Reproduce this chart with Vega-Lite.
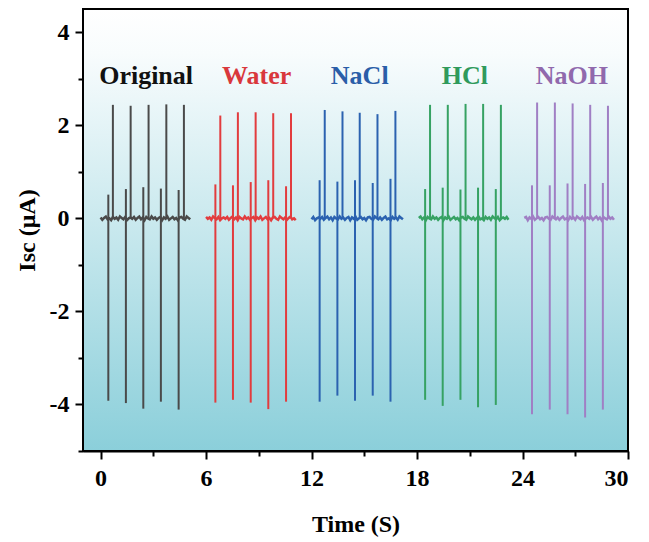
{
"$schema": "https://vega.github.io/schema/vega-lite/v6.json",
"width": 545,
"height": 442,
"autosize": "none",
"padding": {"left": 83, "top": 9, "right": 21, "bottom": 91},
"config": {
  "view": {"stroke": null},
  "axis": {"domainColor": "#000000", "domainWidth": 2, "tickColor": "#000000", "tickWidth": 2, "labelFont": "Liberation Serif", "labelFontSize": 24, "labelFontWeight": "bold", "labelColor": "#000000", "titleFont": "Liberation Serif", "titleFontSize": 24, "titleFontWeight": "bold", "titleColor": "#000000", "grid": false, "zindex": 1}
},
"datasets": {
  "trace": [
{"s":"Original","t":0,"v":0.02},{"s":"Original","t":0.1,"v":-0.03},{"s":"Original","t":0.2,"v":0.01},{"s":"Original","t":0.3,"v":0.04},{"s":"Original","t":0.4,"v":-0.02},{"s":"Original","t":0.5,"v":0},{"s":"Original","t":0.6,"v":-0.04},{"s":"Original","t":0.7,"v":0.03},{"s":"Original","t":0.8,"v":-0.01},{"s":"Original","t":0.9,"v":0.02},{"s":"Original","t":1.0,"v":-0.03},{"s":"Original","t":1.1,"v":0.04},{"s":"Original","t":1.2,"v":0.01},{"s":"Original","t":1.3,"v":-0.02},{"s":"Original","t":1.4,"v":0.03},{"s":"Original","t":1.5,"v":-0.04},{"s":"Original","t":1.6,"v":0},{"s":"Original","t":1.7,"v":0.02},{"s":"Original","t":1.8,"v":-0.01},{"s":"Original","t":1.9,"v":0.03},{"s":"Original","t":2.0,"v":-0.03},{"s":"Original","t":2.1,"v":0.01},{"s":"Original","t":2.2,"v":0.04},{"s":"Original","t":2.3,"v":-0.02},{"s":"Original","t":2.4,"v":0.02},{"s":"Original","t":2.5,"v":-0.04},{"s":"Original","t":2.6,"v":0.03},{"s":"Original","t":2.7,"v":0},{"s":"Original","t":2.8,"v":-0.02},{"s":"Original","t":2.9,"v":0.04},{"s":"Original","t":3.0,"v":-0.01},{"s":"Original","t":3.1,"v":0.02},{"s":"Original","t":3.2,"v":-0.03},{"s":"Original","t":3.3,"v":0.01},{"s":"Original","t":3.4,"v":0.03},{"s":"Original","t":3.5,"v":-0.04},{"s":"Original","t":3.6,"v":0.02},{"s":"Original","t":3.7,"v":-0.01},{"s":"Original","t":3.8,"v":0.04},{"s":"Original","t":3.9,"v":-0.03},{"s":"Original","t":4.0,"v":0},{"s":"Original","t":4.1,"v":0.03},{"s":"Original","t":4.2,"v":-0.02},{"s":"Original","t":4.3,"v":0.01},{"s":"Original","t":4.4,"v":-0.04},{"s":"Original","t":4.5,"v":0.02},{"s":"Original","t":4.6,"v":0.03},{"s":"Original","t":4.7,"v":-0.01},{"s":"Original","t":4.8,"v":-0.03},{"s":"Original","t":4.9,"v":0.04},{"s":"Original","t":5.0,"v":0.01},{"s":"Original","t":5.1,"v":-0.02},
{"s":"Water","t":6.0,"v":0.03},{"s":"Water","t":6.1,"v":-0.01},{"s":"Water","t":6.2,"v":0.02},{"s":"Water","t":6.3,"v":-0.03},{"s":"Water","t":6.4,"v":0.04},{"s":"Water","t":6.5,"v":0.01},{"s":"Water","t":6.6,"v":-0.02},{"s":"Water","t":6.7,"v":0.03},{"s":"Water","t":6.8,"v":-0.04},{"s":"Water","t":6.9,"v":0},{"s":"Water","t":7.0,"v":0.02},{"s":"Water","t":7.1,"v":-0.01},{"s":"Water","t":7.2,"v":0.03},{"s":"Water","t":7.3,"v":-0.03},{"s":"Water","t":7.4,"v":0.01},{"s":"Water","t":7.5,"v":0.04},{"s":"Water","t":7.6,"v":-0.02},{"s":"Water","t":7.7,"v":0.02},{"s":"Water","t":7.8,"v":-0.04},{"s":"Water","t":7.9,"v":0.03},{"s":"Water","t":8.0,"v":0},{"s":"Water","t":8.1,"v":-0.02},{"s":"Water","t":8.2,"v":0.04},{"s":"Water","t":8.3,"v":-0.01},{"s":"Water","t":8.4,"v":0.02},{"s":"Water","t":8.5,"v":-0.03},{"s":"Water","t":8.6,"v":0.01},{"s":"Water","t":8.7,"v":0.03},{"s":"Water","t":8.8,"v":-0.04},{"s":"Water","t":8.9,"v":0.02},{"s":"Water","t":9.0,"v":-0.01},{"s":"Water","t":9.1,"v":0.04},{"s":"Water","t":9.2,"v":-0.03},{"s":"Water","t":9.3,"v":0},{"s":"Water","t":9.4,"v":0.03},{"s":"Water","t":9.5,"v":-0.02},{"s":"Water","t":9.6,"v":0.01},{"s":"Water","t":9.7,"v":-0.04},{"s":"Water","t":9.8,"v":0.02},{"s":"Water","t":9.9,"v":0.03},{"s":"Water","t":10.0,"v":-0.01},{"s":"Water","t":10.1,"v":-0.03},{"s":"Water","t":10.2,"v":0.04},{"s":"Water","t":10.3,"v":0.01},{"s":"Water","t":10.4,"v":-0.02},{"s":"Water","t":10.5,"v":0.02},{"s":"Water","t":10.6,"v":-0.03},{"s":"Water","t":10.7,"v":0.01},{"s":"Water","t":10.8,"v":0.04},{"s":"Water","t":10.9,"v":-0.02},{"s":"Water","t":11.0,"v":0},{"s":"Water","t":11.1,"v":-0.04},
{"s":"NaCl","t":12.0,"v":-0.02},{"s":"NaCl","t":12.1,"v":0.03},{"s":"NaCl","t":12.2,"v":-0.04},{"s":"NaCl","t":12.3,"v":0},{"s":"NaCl","t":12.4,"v":0.02},{"s":"NaCl","t":12.5,"v":-0.01},{"s":"NaCl","t":12.6,"v":0.03},{"s":"NaCl","t":12.7,"v":-0.03},{"s":"NaCl","t":12.8,"v":0.01},{"s":"NaCl","t":12.9,"v":0.04},{"s":"NaCl","t":13.0,"v":-0.02},{"s":"NaCl","t":13.1,"v":0.02},{"s":"NaCl","t":13.2,"v":-0.04},{"s":"NaCl","t":13.3,"v":0.03},{"s":"NaCl","t":13.4,"v":0},{"s":"NaCl","t":13.5,"v":-0.02},{"s":"NaCl","t":13.6,"v":0.04},{"s":"NaCl","t":13.7,"v":-0.01},{"s":"NaCl","t":13.8,"v":0.02},{"s":"NaCl","t":13.9,"v":-0.03},{"s":"NaCl","t":14.0,"v":0.01},{"s":"NaCl","t":14.1,"v":0.03},{"s":"NaCl","t":14.2,"v":-0.04},{"s":"NaCl","t":14.3,"v":0.02},{"s":"NaCl","t":14.4,"v":-0.01},{"s":"NaCl","t":14.5,"v":0.04},{"s":"NaCl","t":14.6,"v":-0.03},{"s":"NaCl","t":14.7,"v":0},{"s":"NaCl","t":14.8,"v":0.03},{"s":"NaCl","t":14.9,"v":-0.02},{"s":"NaCl","t":15.0,"v":0.01},{"s":"NaCl","t":15.1,"v":-0.04},{"s":"NaCl","t":15.2,"v":0.02},{"s":"NaCl","t":15.3,"v":0.03},{"s":"NaCl","t":15.4,"v":-0.01},{"s":"NaCl","t":15.5,"v":-0.03},{"s":"NaCl","t":15.6,"v":0.04},{"s":"NaCl","t":15.7,"v":0.01},{"s":"NaCl","t":15.8,"v":-0.02},{"s":"NaCl","t":15.9,"v":0.02},{"s":"NaCl","t":16.0,"v":-0.03},{"s":"NaCl","t":16.1,"v":0.01},{"s":"NaCl","t":16.2,"v":0.04},{"s":"NaCl","t":16.3,"v":-0.02},{"s":"NaCl","t":16.4,"v":0},{"s":"NaCl","t":16.5,"v":-0.04},{"s":"NaCl","t":16.6,"v":0.03},{"s":"NaCl","t":16.7,"v":-0.01},{"s":"NaCl","t":16.8,"v":0.02},{"s":"NaCl","t":16.9,"v":-0.03},{"s":"NaCl","t":17.0,"v":0.04},{"s":"NaCl","t":17.1,"v":0.01},{"s":"NaCl","t":17.2,"v":-0.02},
{"s":"HCl","t":18.1,"v":0.01},{"s":"HCl","t":18.2,"v":0.04},{"s":"HCl","t":18.3,"v":-0.02},{"s":"HCl","t":18.4,"v":0.02},{"s":"HCl","t":18.5,"v":-0.04},{"s":"HCl","t":18.6,"v":0.03},{"s":"HCl","t":18.7,"v":0},{"s":"HCl","t":18.8,"v":-0.02},{"s":"HCl","t":18.9,"v":0.04},{"s":"HCl","t":19.0,"v":-0.01},{"s":"HCl","t":19.1,"v":0.02},{"s":"HCl","t":19.2,"v":-0.03},{"s":"HCl","t":19.3,"v":0.01},{"s":"HCl","t":19.4,"v":0.03},{"s":"HCl","t":19.5,"v":-0.04},{"s":"HCl","t":19.6,"v":0.02},{"s":"HCl","t":19.7,"v":-0.01},{"s":"HCl","t":19.8,"v":0.04},{"s":"HCl","t":19.9,"v":-0.03},{"s":"HCl","t":20.0,"v":0},{"s":"HCl","t":20.1,"v":0.03},{"s":"HCl","t":20.2,"v":-0.02},{"s":"HCl","t":20.3,"v":0.01},{"s":"HCl","t":20.4,"v":-0.04},{"s":"HCl","t":20.5,"v":0.02},{"s":"HCl","t":20.6,"v":0.03},{"s":"HCl","t":20.7,"v":-0.01},{"s":"HCl","t":20.8,"v":-0.03},{"s":"HCl","t":20.9,"v":0.04},{"s":"HCl","t":21.0,"v":0.01},{"s":"HCl","t":21.1,"v":-0.02},{"s":"HCl","t":21.2,"v":0.02},{"s":"HCl","t":21.3,"v":-0.03},{"s":"HCl","t":21.4,"v":0.01},{"s":"HCl","t":21.5,"v":0.04},{"s":"HCl","t":21.6,"v":-0.02},{"s":"HCl","t":21.7,"v":0},{"s":"HCl","t":21.8,"v":-0.04},{"s":"HCl","t":21.9,"v":0.03},{"s":"HCl","t":22.0,"v":-0.01},{"s":"HCl","t":22.1,"v":0.02},{"s":"HCl","t":22.2,"v":-0.03},{"s":"HCl","t":22.3,"v":0.04},{"s":"HCl","t":22.4,"v":0.01},{"s":"HCl","t":22.5,"v":-0.02},{"s":"HCl","t":22.6,"v":0.03},{"s":"HCl","t":22.7,"v":-0.04},{"s":"HCl","t":22.8,"v":0},{"s":"HCl","t":22.9,"v":0.02},{"s":"HCl","t":23.0,"v":-0.01},{"s":"HCl","t":23.1,"v":0.03},{"s":"HCl","t":23.2,"v":-0.03},
{"s":"NaOH","t":24.1,"v":0.01},{"s":"NaOH","t":24.2,"v":0.03},{"s":"NaOH","t":24.3,"v":-0.04},{"s":"NaOH","t":24.4,"v":0.02},{"s":"NaOH","t":24.5,"v":-0.01},{"s":"NaOH","t":24.6,"v":0.04},{"s":"NaOH","t":24.7,"v":-0.03},{"s":"NaOH","t":24.8,"v":0},{"s":"NaOH","t":24.9,"v":0.03},{"s":"NaOH","t":25.0,"v":-0.02},{"s":"NaOH","t":25.1,"v":0.01},{"s":"NaOH","t":25.2,"v":-0.04},{"s":"NaOH","t":25.3,"v":0.02},{"s":"NaOH","t":25.4,"v":0.03},{"s":"NaOH","t":25.5,"v":-0.01},{"s":"NaOH","t":25.6,"v":-0.03},{"s":"NaOH","t":25.7,"v":0.04},{"s":"NaOH","t":25.8,"v":0.01},{"s":"NaOH","t":25.9,"v":-0.02},{"s":"NaOH","t":26.0,"v":0.02},{"s":"NaOH","t":26.1,"v":-0.03},{"s":"NaOH","t":26.2,"v":0.01},{"s":"NaOH","t":26.3,"v":0.04},{"s":"NaOH","t":26.4,"v":-0.02},{"s":"NaOH","t":26.5,"v":0},{"s":"NaOH","t":26.6,"v":-0.04},{"s":"NaOH","t":26.7,"v":0.03},{"s":"NaOH","t":26.8,"v":-0.01},{"s":"NaOH","t":26.9,"v":0.02},{"s":"NaOH","t":27.0,"v":-0.03},{"s":"NaOH","t":27.1,"v":0.04},{"s":"NaOH","t":27.2,"v":0.01},{"s":"NaOH","t":27.3,"v":-0.02},{"s":"NaOH","t":27.4,"v":0.03},{"s":"NaOH","t":27.5,"v":-0.04},{"s":"NaOH","t":27.6,"v":0},{"s":"NaOH","t":27.7,"v":0.02},{"s":"NaOH","t":27.8,"v":-0.01},{"s":"NaOH","t":27.9,"v":0.03},{"s":"NaOH","t":28.0,"v":-0.03},{"s":"NaOH","t":28.1,"v":0.01},{"s":"NaOH","t":28.2,"v":0.04},{"s":"NaOH","t":28.3,"v":-0.02},{"s":"NaOH","t":28.4,"v":0.02},{"s":"NaOH","t":28.5,"v":-0.04},{"s":"NaOH","t":28.6,"v":0.03},{"s":"NaOH","t":28.7,"v":0},{"s":"NaOH","t":28.8,"v":-0.02},{"s":"NaOH","t":28.9,"v":0.04},{"s":"NaOH","t":29.0,"v":-0.01},{"s":"NaOH","t":29.1,"v":0.02},{"s":"NaOH","t":29.2,"v":-0.03}
  ],
  "peaks": [
{"s":"Original","t":0.44,"v":0.51},{"s":"Original","t":0.44,"v":-3.92},{"s":"Original","t":0.70,"v":2.44},
{"s":"Original","t":1.44,"v":0.63},{"s":"Original","t":1.44,"v":-3.97},{"s":"Original","t":1.71,"v":2.42},
{"s":"Original","t":2.43,"v":0.67},{"s":"Original","t":2.43,"v":-4.09},{"s":"Original","t":2.73,"v":2.44},
{"s":"Original","t":3.43,"v":0.64},{"s":"Original","t":3.43,"v":-3.94},{"s":"Original","t":3.74,"v":2.45},
{"s":"Original","t":4.44,"v":0.61},{"s":"Original","t":4.44,"v":-4.11},{"s":"Original","t":4.74,"v":2.44},
{"s":"Water","t":6.53,"v":0.73},{"s":"Water","t":6.53,"v":-3.96},{"s":"Water","t":6.81,"v":2.21},
{"s":"Water","t":7.53,"v":0.71},{"s":"Water","t":7.53,"v":-3.90},{"s":"Water","t":7.81,"v":2.28},
{"s":"Water","t":8.54,"v":0.78},{"s":"Water","t":8.54,"v":-3.96},{"s":"Water","t":8.82,"v":2.28},
{"s":"Water","t":9.54,"v":0.82},{"s":"Water","t":9.54,"v":-4.10},{"s":"Water","t":9.82,"v":2.26},
{"s":"Water","t":10.55,"v":0.69},{"s":"Water","t":10.55,"v":-3.94},{"s":"Water","t":10.83,"v":2.26},
{"s":"NaCl","t":12.46,"v":0.82},{"s":"NaCl","t":12.46,"v":-3.94},{"s":"NaCl","t":12.75,"v":2.33},
{"s":"NaCl","t":13.47,"v":0.79},{"s":"NaCl","t":13.47,"v":-3.81},{"s":"NaCl","t":13.76,"v":2.30},
{"s":"NaCl","t":14.47,"v":0.82},{"s":"NaCl","t":14.47,"v":-3.92},{"s":"NaCl","t":14.74,"v":2.27},
{"s":"NaCl","t":15.48,"v":0.76},{"s":"NaCl","t":15.48,"v":-3.81},{"s":"NaCl","t":15.75,"v":2.24},
{"s":"NaCl","t":16.49,"v":0.85},{"s":"NaCl","t":16.49,"v":-3.94},{"s":"NaCl","t":16.77,"v":2.31},
{"s":"HCl","t":18.46,"v":0.63},{"s":"HCl","t":18.46,"v":-3.90},{"s":"HCl","t":18.74,"v":2.44},
{"s":"HCl","t":19.46,"v":0.66},{"s":"HCl","t":19.46,"v":-4.03},{"s":"HCl","t":19.75,"v":2.44},
{"s":"HCl","t":20.47,"v":0.62},{"s":"HCl","t":20.47,"v":-3.90},{"s":"HCl","t":20.76,"v":2.46},
{"s":"HCl","t":21.47,"v":0.66},{"s":"HCl","t":21.47,"v":-4.06},{"s":"HCl","t":21.76,"v":2.46},
{"s":"HCl","t":22.48,"v":0.63},{"s":"HCl","t":22.48,"v":-4.01},{"s":"HCl","t":22.77,"v":2.44},
{"s":"NaOH","t":24.54,"v":0.71},{"s":"NaOH","t":24.54,"v":-4.21},{"s":"NaOH","t":24.83,"v":2.49},
{"s":"NaOH","t":25.55,"v":0.71},{"s":"NaOH","t":25.55,"v":-4.11},{"s":"NaOH","t":25.84,"v":2.49},
{"s":"NaOH","t":26.56,"v":0.75},{"s":"NaOH","t":26.56,"v":-4.21},{"s":"NaOH","t":26.85,"v":2.47},
{"s":"NaOH","t":27.56,"v":0.74},{"s":"NaOH","t":27.56,"v":-4.28},{"s":"NaOH","t":27.85,"v":2.44},
{"s":"NaOH","t":28.57,"v":0.76},{"s":"NaOH","t":28.57,"v":-4.11},{"s":"NaOH","t":28.86,"v":2.42}
  ],
  "labels": [
{"s":"Original","t":2.59,"v":3.07},{"s":"Water","t":8.88,"v":3.07},{"s":"NaCl","t":14.74,"v":3.07},{"s":"HCl","t":20.72,"v":3.07},{"s":"NaOH","t":26.81,"v":3.07}
  ]
},
"resolve": {"scale": {"color": "independent"}},
"layer": [
  {
    "data": {"values": [{}]},
    "mark": {"type": "rect", "fill": {"gradient": "linear", "x1": 0, "y1": 0, "x2": 0, "y2": 1, "stops": [{"offset": 0, "color": "#ffffff"}, {"offset": 0.1, "color": "#f8fcfd"}, {"offset": 1, "color": "#8bcfda"}]}, "stroke": "#000000", "strokeWidth": 2},
    "encoding": {}
  },
  {
    "data": {"name": "trace"},
    "mark": {"type": "line", "strokeWidth": 2.5, "clip": true},
    "encoding": {
      "x": {"field": "t", "type": "quantitative", "scale": {"domain": [-1, 30], "nice": false, "zero": false},
        "axis": {"values": [0, 3, 6, 9, 12, 15, 18, 21, 24, 27, 30], "labelExpr": "datum.value % 6 === 0 ? '' + datum.value : ''", "tickSize": {"condition": {"test": "datum.value % 6 === 0", "value": 8}, "value": 5}, "labelPadding": 7, "title": "Time (S)", "titlePadding": 22}},
      "y": {"field": "v", "type": "quantitative", "scale": {"domain": [-5, 4.5], "nice": false, "zero": false},
        "axis": {"values": [-5, -4, -3, -2, -1, 0, 1, 2, 3, 4], "labelExpr": "datum.value % 2 === 0 ? (datum.value < 0 ? '-' + abs(datum.value) : '' + datum.value) : ''", "tickSize": {"condition": {"test": "datum.value % 2 === 0", "value": 8}, "value": 5}, "labelPadding": 6, "title": "Isc (μA)", "titlePadding": 10}},
      "color": {"field": "s", "type": "nominal", "scale": {"domain": ["Original", "Water", "NaCl", "HCl", "NaOH"], "range": ["#4a4a4a", "#e23c3e", "#2b62b0", "#36a263", "#a07fc4"]}, "legend": null}
    }
  },
  {
    "data": {"name": "peaks"},
    "mark": {"type": "rule", "strokeWidth": 2},
    "encoding": {
      "x": {"field": "t", "type": "quantitative"},
      "y": {"field": "v", "type": "quantitative"},
      "y2": {"datum": 0},
      "color": {"field": "s", "type": "nominal", "scale": {"domain": ["Original", "Water", "NaCl", "HCl", "NaOH"], "range": ["#4a4a4a", "#e23c3e", "#2b62b0", "#36a263", "#a07fc4"]}, "legend": null}
    }
  },
  {
    "data": {"name": "labels"},
    "mark": {"type": "text", "font": "Liberation Serif", "fontSize": 26, "fontWeight": "bold", "align": "center", "baseline": "middle"},
    "encoding": {
      "x": {"field": "t", "type": "quantitative"},
      "y": {"field": "v", "type": "quantitative"},
      "text": {"field": "s"},
      "color": {"field": "s", "type": "nominal", "scale": {"domain": ["Original", "Water", "NaCl", "HCl", "NaOH"], "range": ["#111111", "#d9383c", "#2a5ea8", "#2f9a5c", "#9069ad"]}, "legend": null}
    }
  }
]
}
